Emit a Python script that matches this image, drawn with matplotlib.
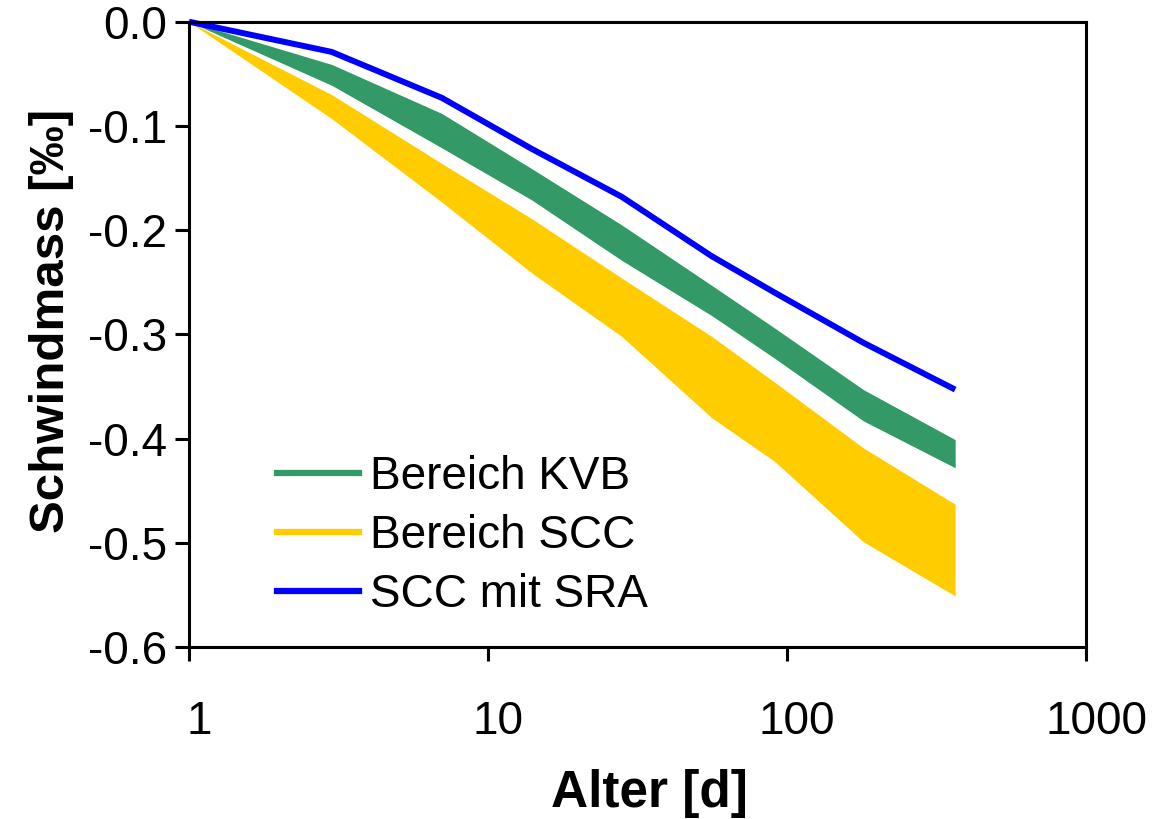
import matplotlib.pyplot as plt
import matplotlib.transforms as mtransforms
from matplotlib.lines import Line2D

plt.rcParams['font.family'] = ['Liberation Sans', 'DejaVu Sans']

# Alter in Tagen
alter = [1, 3, 7, 14, 28, 56, 91, 180, 365]

kvb_oben = [0.0, -0.041, -0.088, -0.141, -0.195, -0.253, -0.294, -0.353, -0.401]
kvb_unten = [0.0, -0.061, -0.121, -0.171, -0.229, -0.282, -0.323, -0.383, -0.428]
scc_oben = [0.0, -0.070, -0.136, -0.189, -0.246, -0.302, -0.346, -0.409, -0.463]
scc_unten = [0.0, -0.093, -0.173, -0.241, -0.302, -0.380, -0.422, -0.499, -0.551]
scc_sra = [0.0, -0.029, -0.073, -0.122, -0.168, -0.225, -0.260, -0.308, -0.353]

namen = ['Bereich KVB', 'Bereich SCC', 'SCC mit SRA']
farben = ['#339966', '#FFCC00', '#0000FF']

fig = plt.figure(figsize=(11.54, 8.19), dpi=100)
ax = fig.add_axes([0.1638, 0.210, 0.9411 - 0.1638, 0.9735 - 0.210])

ax.fill_between(alter, scc_oben, scc_unten, color=farben[1], lw=0)
ax.fill_between(alter, kvb_oben, kvb_unten, color=farben[0], lw=0)
ax.plot(alter, scc_sra, color=farben[2], lw=4.3, solid_capstyle='butt', clip_on=False)

ax.set_xscale('log')
ax.set_xlim(1, 1000)
ax.set_ylim(-0.6, 0.0)
ax.set_xticks([1, 10, 100, 1000])
ax.set_xticklabels(['1', '10', '100', '1000'])
ax.minorticks_off()
ax.set_yticks([0.0, -0.1, -0.2, -0.3, -0.4, -0.5, -0.6])
ax.set_yticklabels(['0.0', '-0.1', '-0.2', '-0.3', '-0.4', '-0.5', '-0.6'])

for s in ax.spines.values():
    s.set_linewidth(2.2)
ax.tick_params(axis='both', direction='out', length=10, width=2.2, labelsize=33)
ax.tick_params(axis='x', pad=28)
ax.tick_params(axis='y', pad=6)

# x-Beschriftungen leicht nach rechts versetzt wie im Original
versatz = mtransforms.ScaledTranslation(10 / 100, 0, fig.dpi_scale_trans)
for lab in ax.get_xticklabels():
    lab.set_transform(lab.get_transform() + versatz)

ax.set_xlabel('Alter [d]', fontsize=37, fontweight='bold')
ax.xaxis.set_label_coords(0.513, -0.195)
ax.set_ylabel('Schwindmass [‰]', fontsize=35.5, fontweight='bold')
ax.yaxis.set_label_coords(-0.128, 0.522)

handles = [Line2D([], [], color=c, lw=4.5) for c in farben]
ax.legend(handles, namen, loc='lower left', bbox_to_anchor=(0.078, 0.019),
          frameon=False, fontsize=33, handlelength=1.78, handletextpad=0.25,
          labelspacing=0.33, borderaxespad=0)

plt.savefig('out.png', dpi=100)
